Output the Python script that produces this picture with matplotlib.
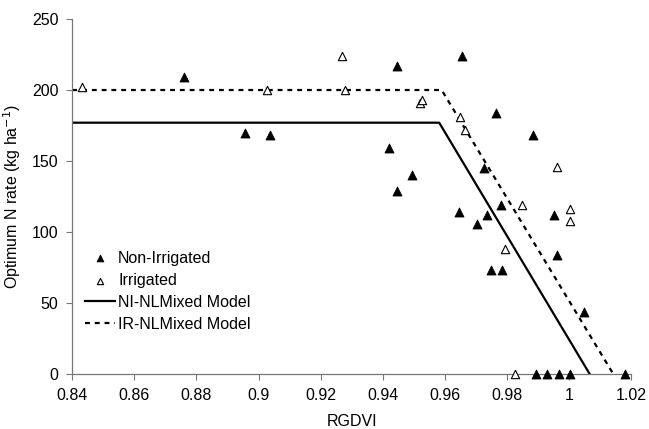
import matplotlib
matplotlib.use("Agg")
import matplotlib.pyplot as plt

plt.rcParams['font.family'] = ['Liberation Sans', 'DejaVu Sans']

# Non-irrigated observations
ni_x = [0.876, 0.8956, 0.9038, 0.9446, 0.9656, 0.9764, 0.9883, 0.9419, 0.9495,
        0.9445, 0.9725, 0.978, 0.9952, 0.9646, 0.9737, 0.9703, 0.9963, 0.975,
        0.9784, 1.0049, 0.9894, 0.9929, 0.9967, 1.0003, 1.0182]
ni_y = [209, 170, 168, 217, 224, 184, 168, 159, 140,
        129, 145, 119, 112, 114, 112, 106, 84, 73,
        73, 44, 0, 0, 0, 0, 0]

# Irrigated observations
ir_x = [0.8432, 0.9026, 0.9269, 0.9278, 0.952, 0.9527, 0.9648, 0.9664, 0.9963,
        0.985, 1.0003, 1.0003, 0.9795, 0.9825]
ir_y = [202, 200, 224, 200, 191, 193, 181, 172, 146,
        119, 116, 108, 88, 0]

# Linear-plateau models
ni_model_x = [0.84, 0.9582, 1.0067]
ni_model_y = [177, 177, 0]
ir_model_x = [0.84, 0.959, 1.0143]
ir_model_y = [200, 200, 0]

fig = plt.figure(figsize=(6.49, 4.29), dpi=100)
ax = fig.add_axes([0.1114, 0.128, 0.8609, 0.8277])

ax.scatter(ni_x, ni_y, marker='^', s=42, c='black', edgecolors='black',
           linewidths=0.6, label='Non-Irrigated', zorder=3, clip_on=False)
ax.scatter(ir_x, ir_y, marker='^', s=36, facecolors='white', edgecolors='black',
           linewidths=0.8, label='Irrigated', zorder=3, clip_on=False)
ax.plot(ni_model_x, ni_model_y, color='black', lw=1.6, label='NI-NLMixed Model')
ax.plot(ir_model_x, ir_model_y, color='black', lw=1.6, ls=(0, (2.2, 2.2)),
        label='IR-NLMixed Model')

ax.set_xlim(0.84, 1.02)
ax.set_ylim(0, 250)
ax.set_xticks([0.84, 0.86, 0.88, 0.9, 0.92, 0.94, 0.96, 0.98, 1.0, 1.02])
ax.set_xticklabels(['0.84', '0.86', '0.88', '0.9', '0.92', '0.94', '0.96',
                    '0.98', '1', '1.02'])
ax.set_yticks([0, 50, 100, 150, 200, 250])

for s in ['top', 'right']:
    ax.spines[s].set_visible(False)
for s in ['left', 'bottom']:
    ax.spines[s].set_color('#777777')
    ax.spines[s].set_linewidth(0.9)
ax.tick_params(direction='out', length=4, width=0.8, color='#777777',
               labelsize=11.5, pad=6)

ax.set_xlabel('RGDVI', fontsize=11.5, labelpad=8)
ax.set_ylabel('Optimum N rate (kg ha$^{-1}$)', fontsize=11.5, labelpad=6)

ax.legend(loc='upper left', bbox_to_anchor=(0.005, 0.375), frameon=False,
          fontsize=11.5, handlelength=1.9, handletextpad=0.2, labelspacing=0.45,
          borderaxespad=0.2, markerscale=0.75)

fig.savefig('out.png', dpi=100)
